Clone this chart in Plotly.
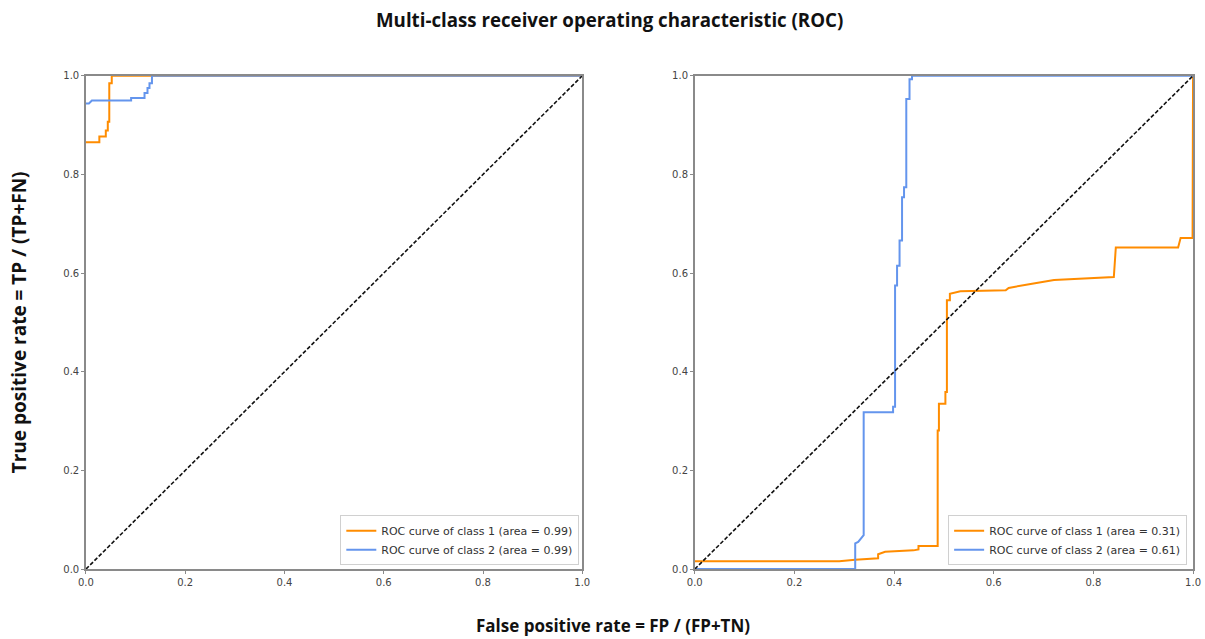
import plotly.graph_objects as go

# ---- data ----
# Left panel
left_c1_fpr = [0.0, 0.027, 0.027, 0.040, 0.040, 0.044, 0.044, 0.047, 0.047, 0.052, 0.052, 1.0]
left_c1_tpr = [0.865, 0.865, 0.877, 0.877, 0.889, 0.889, 0.907, 0.907, 0.985, 0.985, 1.0, 1.0]
left_c2_fpr = [0.0, 0.006, 0.012, 0.091, 0.091, 0.118, 0.118, 0.124, 0.124, 0.128, 0.128, 0.133, 0.133, 1.0]
left_c2_tpr = [0.944, 0.944, 0.950, 0.950, 0.955, 0.955, 0.965, 0.965, 0.975, 0.975, 0.985, 0.985, 1.0, 1.0]

# Right panel
right_c1_fpr = [0.0, 0.29, 0.322, 0.368, 0.368, 0.382, 0.439, 0.449, 0.449, 0.4875, 0.4875, 0.490, 0.490,
                0.503, 0.503, 0.506, 0.506, 0.512, 0.512, 0.533, 0.624, 0.630, 0.674, 0.721, 0.841,
                0.845, 0.970, 0.975, 0.999, 1.0]
right_c1_tpr = [0.016, 0.016, 0.019, 0.022, 0.030, 0.035, 0.038, 0.040, 0.047, 0.047, 0.281, 0.281, 0.335,
                0.335, 0.359, 0.359, 0.545, 0.545, 0.558, 0.563, 0.565, 0.570, 0.578, 0.586, 0.592,
                0.652, 0.652, 0.671, 0.671, 1.0]
right_c2_fpr = [0.0, 0.322, 0.322, 0.328, 0.339, 0.339, 0.398, 0.398, 0.402, 0.402, 0.406, 0.406, 0.411,
                0.411, 0.416, 0.416, 0.420, 0.420, 0.4245, 0.4245, 0.431, 0.431, 0.436, 0.436, 1.0]
right_c2_tpr = [0.0, 0.0, 0.052, 0.055, 0.069, 0.318, 0.318, 0.329, 0.329, 0.575, 0.575, 0.615, 0.615,
                0.666, 0.666, 0.754, 0.754, 0.774, 0.774, 0.953, 0.953, 0.993, 0.993, 1.0, 1.0]

diag = [0.0, 1.0]

left_names = ["ROC curve of class 1 (area = 0.99)", "ROC curve of class 2 (area = 0.99)"]
right_names = ["ROC curve of class 1 (area = 0.31)", "ROC curve of class 2 (area = 0.61)"]

ticks = [0.0, 0.2, 0.4, 0.6, 0.8, 1.0]
tick_text = ["0.0", "0.2", "0.4", "0.6", "0.8", "1.0"]

ORANGE = "#FF8C00"
BLUE = "#6495ED"

W, H = 1205, 639

fig = go.Figure()

def add_panel(xa, ya, legend, c1x, c1y, c2x, c2y, names):
    fig.add_trace(go.Scatter(x=c1x, y=c1y, mode="lines", name=names[0],
                             line=dict(color=ORANGE, width=2), xaxis=xa, yaxis=ya, legend=legend))
    fig.add_trace(go.Scatter(x=c2x, y=c2y, mode="lines", name=names[1],
                             line=dict(color=BLUE, width=2), xaxis=xa, yaxis=ya, legend=legend))
    fig.add_trace(go.Scatter(x=diag, y=diag, mode="lines", showlegend=False,
                             line=dict(color="#111111", width=1.6, dash="4px,2px"),
                             xaxis=xa, yaxis=ya, legend=legend))

add_panel("x", "y", "legend", left_c1_fpr, left_c1_tpr, left_c2_fpr, left_c2_tpr, left_names)
add_panel("x2", "y2", "legend2", right_c1_fpr, right_c1_tpr, right_c2_fpr, right_c2_tpr, right_names)

ydom = [1 - 574 / H, 1 - 72 / H]
axis_common = dict(range=[0, 1], showgrid=False, zeroline=False, showline=True, mirror=True,
                   linecolor="#8a8a8a", linewidth=1.5, ticks="outside", ticklen=3, tickwidth=1,
                   tickcolor="#8a8a8a", tickvals=ticks, ticktext=tick_text,
                   tickfont=dict(family="DejaVu Sans", size=10, color="#444444"))

leg_common = dict(bgcolor="white", bordercolor="#d0d0d0", borderwidth=1,
                  font=dict(family="DejaVu Sans", size=11, color="#333333"),
                  xanchor="right", yanchor="bottom", tracegroupgap=0, itemwidth=30)

fig.update_layout(
    width=W, height=H,
    margin=dict(l=0, r=0, t=0, b=0),
    paper_bgcolor="white", plot_bgcolor="white",
    xaxis=dict(domain=[79 / W, 582 / W], anchor="y", **axis_common),
    yaxis=dict(domain=ydom, anchor="x", **axis_common),
    xaxis2=dict(domain=[696 / W, 1201 / W], anchor="y2", **axis_common),
    yaxis2=dict(domain=ydom, anchor="x2", **axis_common),
    legend=dict(x=579 / W, y=1 - 570 / H, **leg_common),
    legend2=dict(x=1195 / W, y=1 - 570 / H, **leg_common),
    annotations=[
        dict(text="<b>Multi-class receiver operating characteristic (ROC)</b>", x=610 / W, y=1 - 15 / H,
             xref="paper", yref="paper", showarrow=False, xanchor="center", yanchor="middle",
             font=dict(family="Open Sans", size=18.7, color="#111111")),
        dict(text="<b>True positive rate = TP / (TP+FN)</b>", x=12 / W, y=1 - 323 / H,
             xref="paper", yref="paper", showarrow=False, xanchor="center", yanchor="middle",
             textangle=-90, font=dict(family="Open Sans", size=19, color="#111111")),
        dict(text="<b>False positive rate = FP / (FP+TN)</b>", x=613 / W, y=1 - 631 / H,
             xref="paper", yref="paper", showarrow=False, xanchor="center", yanchor="middle",
             font=dict(family="Open Sans", size=17, color="#111111")),
    ],
)

fig.write_html("out.html")
